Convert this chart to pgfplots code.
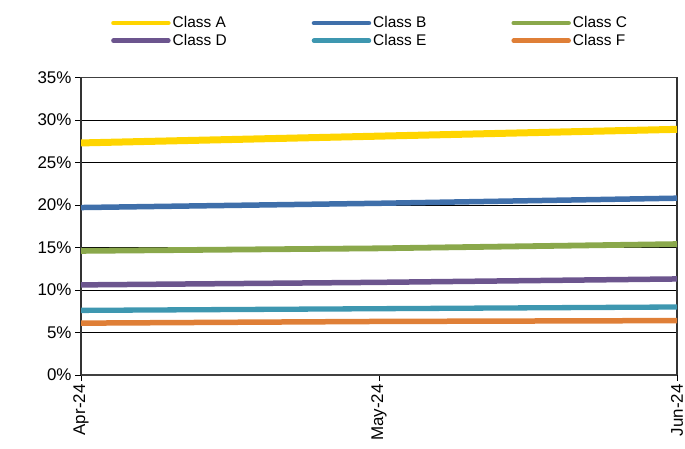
\documentclass[border=0pt]{standalone}
\usepackage{fontspec}
\setmainfont{Liberation Sans}
\usepackage{pgfplots}
\pgfplotsset{compat=1.18}
\definecolor{cA}{HTML}{FFD500}
\definecolor{cB}{HTML}{3F6FAA}
\definecolor{cC}{HTML}{8AA84B}
\definecolor{cD}{HTML}{6C558E}
\definecolor{cE}{HTML}{3E97B0}
\definecolor{cF}{HTML}{DF7F37}
\begin{document}
\begin{tikzpicture}[x=1bp,y=1bp]
\begin{axis}[
  at={(81bp,74bp)}, anchor=south west,
  scale only axis, width=596bp, height=297.5bp,
  xmin=0, xmax=2, ymin=0, ymax=35,
  xtick={0,1,2}, xticklabels={Apr-24,May-24,Jun-24},
  ytick={0,5,...,35},
  /pgf/number format/assume math mode=true,
  yticklabel={\pgfmathprintnumber{\tick}\%},
  tick align=outside, major tick length=6bp,
  xtick pos=bottom, ytick pos=left,
  tick style={black, line width=0.8bp},
  xticklabel style={rotate=90, anchor=east, font=\fontsize{17}{20}\selectfont},
  yticklabel style={font=\fontsize{17}{20}\selectfont},
  ymajorgrids, grid style={black, line width=0.8bp},
  separate axis lines,
  x axis line style={black!75, line width=1.8bp},
  y axis line style={black!80, line width=1.2bp},
  legend columns=3,
  legend style={at={(0.0503,1.2117)}, anchor=north west, draw=none, fill=none,
    inner sep=0pt, row sep=1bp,
    nodes={inner sep=2bp},
    font=\fontsize{15.5}{17.5}\selectfont,
    /tikz/every even column/.append style={column sep=83bp}},
  legend cell align=left,
  legend image code/.code={\draw[#1, line width=4.5bp, line cap=round] (0bp,0bp) -- (55bp,0bp);},
]
\addplot[cA, line width=7bp] coordinates {(0,27.3) (1,28.1) (2,28.9)};
\addlegendentry{Class A}
\addplot[cB, line width=5.5bp] coordinates {(0,19.7) (1,20.2) (2,20.8)};
\addlegendentry{Class B}
\addplot[cC, line width=5.8bp] coordinates {(0,14.6) (1,14.9) (2,15.4)};
\addlegendentry{Class C}
\addplot[cD, line width=5.5bp] coordinates {(0,10.6) (1,10.9) (2,11.3)};
\addlegendentry{Class D}
\addplot[cE, line width=5.3bp] coordinates {(0,7.6) (1,7.8) (2,8.0)};
\addlegendentry{Class E}
\addplot[cF, line width=5.5bp] coordinates {(0,6.1) (1,6.3) (2,6.4)};
\addlegendentry{Class F}
\end{axis}
\pgfresetboundingbox
\path[use as bounding box] (0,0) rectangle (685,449);
\end{tikzpicture}
\end{document}
